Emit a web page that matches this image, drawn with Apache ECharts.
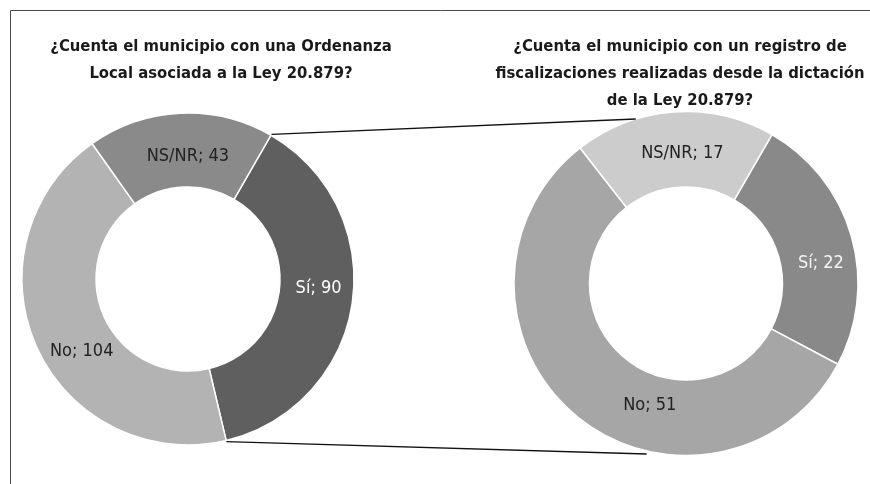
<!DOCTYPE html>
<html>
<head>
<meta charset="utf-8">
<script src="https://cdn.jsdelivr.net/npm/echarts@6/dist/echarts.min.js"></script>
<style>
html,body{margin:0;padding:0;background:#fff;}
#chart{width:870px;height:484px;}
</style>
</head>
<body>
<div id="chart"></div>
<script>
// ---- data ----
const leftTitle = "¿Cuenta el municipio con una Ordenanza\nLocal asociada a la Ley 20.879?";
const rightTitle = "¿Cuenta el municipio con un registro de\nfiscalizaciones realizadas desde la dictación\nde la Ley 20.879?";
const leftCategories = ["Sí", "No", "NS/NR"];
const leftValues = [90, 104, 43];
const rightCategories = ["Sí", "No", "NS/NR"];
const rightValues = [22, 51, 17];

// ---- styles ----
const FONT = "'Liberation Sans Narrow', 'DejaVu Sans Condensed', 'Roboto', sans-serif";
const leftColors = ["#5f5f5f", "#b3b3b3", "#8a8a8a"];
const leftLabelColors = ["#ffffff", "#222222", "#222222"];
const leftLabelOffsets = [[0, -10], [14, 18], [6, 9]];
const rightColors = ["#898989", "#a6a6a6", "#cccccc"];
const rightLabelColors = ["#f4f4f4", "#222222", "#222222"];
const rightLabelOffsets = [[3, 18], [52, 17], [6, 7]];

const L = {cx: 188, cy: 279, r0: 92, r1: 166};
const R = {cx: 686, cy: 283.5, r0: 96.5, r1: 172};
const START = 60; // echarts startAngle (deg, ccw from 3 o'clock)

function buildData(cats, vals, colors, lcolors, offs) {
  return cats.map((c, i) => ({
    name: c, value: vals[i],
    itemStyle: {color: colors[i]},
    label: {color: lcolors[i], offset: offs[i]}
  }));
}

function pt(p, angleFromTopCw, r) {
  const a = angleFromTopCw * Math.PI / 180;
  return [p.cx + r * Math.sin(a), p.cy - r * Math.cos(a)];
}

// connector lines from the "Sí" slice of the left pie to the right pie
const total = leftValues.reduce((a, b) => a + b, 0);
const siStart = 90 - START;
const siEnd = siStart + 360 * leftValues[0] / total;
const p1 = pt(L, siStart, L.r1 + 1);
const p2 = pt(L, siEnd, L.r1 + 1);
const q1 = pt(R, -17, R.r1);
const q2 = pt(R, 193, R.r1 + 3);

const chart = echarts.init(document.getElementById('chart'), null, {renderer: 'canvas'});
const titleStyle = {fontFamily: FONT, fontSize: 16.5, fontWeight: 'bold', color: '#1a1a1a', lineHeight: 27, align: 'center'};

chart.setOption({
  animation: false,
  backgroundColor: '#ffffff',
  title: [
    {text: leftTitle, left: 216, top: 28, textAlign: 'center', textStyle: titleStyle},
    {text: rightTitle, left: 675, top: 28, textAlign: 'center', textStyle: titleStyle}
  ],
  graphic: [
    {type: 'line', shape: {x1: 10.5, y1: 10.5, x2: 870, y2: 10.5}, style: {stroke: '#4a4a4a', lineWidth: 1}, z: 10},
    {type: 'line', shape: {x1: 10.5, y1: 10.5, x2: 10.5, y2: 484}, style: {stroke: '#4a4a4a', lineWidth: 1}, z: 10},
    {type: 'line', shape: {x1: p1[0], y1: p1[1], x2: q1[0], y2: q1[1]}, style: {stroke: '#111', lineWidth: 1.3}, z: 10},
    {type: 'line', shape: {x1: p2[0], y1: p2[1], x2: q2[0], y2: q2[1]}, style: {stroke: '#111', lineWidth: 1.3}, z: 10}
  ],
  series: [
    {
      type: 'pie', center: [L.cx, L.cy], radius: [L.r0, L.r1],
      startAngle: START, clockwise: true, avoidLabelOverlap: false,
      silent: true,
      itemStyle: {borderColor: '#ffffff', borderWidth: 1.5},
      label: {show: true, position: 'inside', formatter: '{b}; {c}', fontFamily: FONT, fontSize: 18},
      labelLine: {show: false},
      data: buildData(leftCategories, leftValues, leftColors, leftLabelColors, leftLabelOffsets)
    },
    {
      type: 'pie', center: [R.cx, R.cy], radius: [R.r0, R.r1],
      startAngle: START, clockwise: true, avoidLabelOverlap: false,
      silent: true,
      itemStyle: {borderColor: '#ffffff', borderWidth: 1.5},
      label: {show: true, position: 'inside', formatter: '{b}; {c}', fontFamily: FONT, fontSize: 18},
      labelLine: {show: false},
      data: buildData(rightCategories, rightValues, rightColors, rightLabelColors, rightLabelOffsets)
    }
  ]
});
</script>
</body>
</html>
